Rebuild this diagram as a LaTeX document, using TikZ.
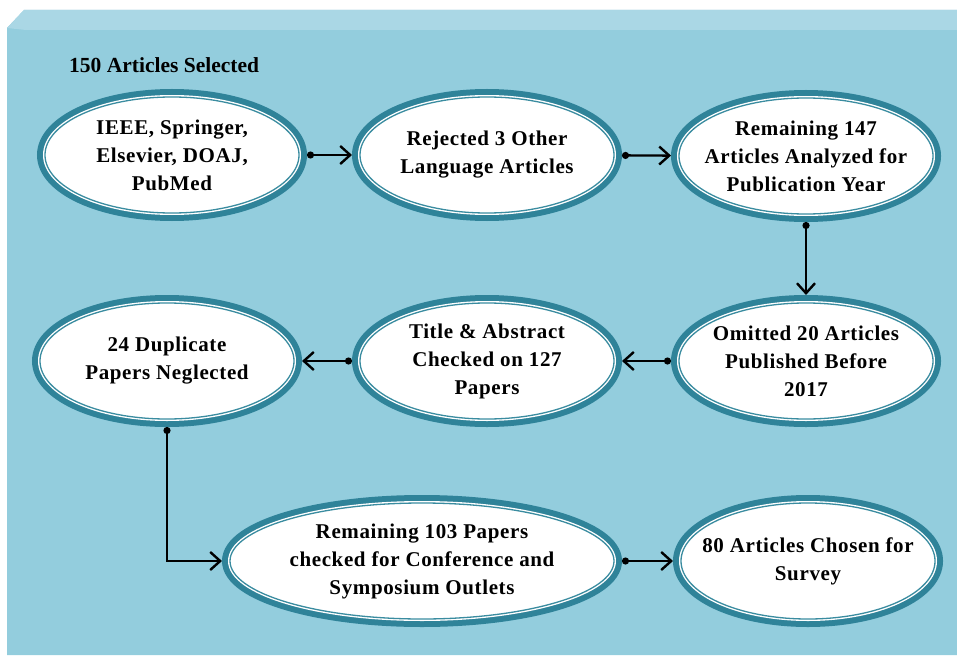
\documentclass[tikz,border=0pt]{standalone}
\usepackage{fontspec}
\setmainfont{Liberation Serif}
\newfontfamily\boxfont[LetterSpace=3]{Liberation Serif}
\usetikzlibrary{arrows.meta,shapes.geometric}
\definecolor{bgmain}{HTML}{93CDDD}
\definecolor{bgtop}{HTML}{AAD7E5}
\definecolor{ring}{HTML}{2F8399}
\definecolor{ringthin}{HTML}{3A8CA0}
\begin{document}
\begin{tikzpicture}[x=1pt,y=-1pt,
  stage/.style={ellipse, minimum width=254pt, minimum height=116pt,
    inner xsep=-70pt, inner ysep=-30pt,
    outer sep=8pt, fill=white, draw=ringthin, line width=1.3pt,
    preaction={draw=ring, line width=16pt},
    preaction={draw=white, line width=4pt},
    font=\boxfont\bfseries\fontsize{21}{28}\selectfont, align=center, text=black},
  conn/.style={line width=2.4pt, black, {Circle[length=7pt]}-{Straight Barb[length=10pt,width=18pt]}}]
\useasboundingbox (0,0) rectangle (957,655);
\fill[white] (0,0) rectangle (957,655);
% panel
\fill[bgmain] (7,655) -- (7,28) -- (24,10) -- (957,10) -- (957,655) -- cycle;
\fill[bgtop] (7,28) -- (24,10) -- (957,10) -- (957,30) -- (26,30) -- cycle;
% title
\node[anchor=west, font=\bfseries\fontsize{21.5}{26}\selectfont, inner sep=0pt] (title) at (69,65) {150 Articles Selected};
% stages
\node[stage] (a) at (172,155) {IEEE, Springer,\\Elsevier, DOAJ,\\PubMed};
\node[stage] (b) at (487,155) {Rejected 3 Other\\Language Articles};
\node[stage] (c) at (806,156) {Remaining 147\\Articles Analyzed for\\Publication Year};
\node[stage] (d) at (806,361) {Omitted 20 Articles\\Published Before\\2017};
\node[stage] (e) at (487,361) {Title \& Abstract\\Checked on 127\\Papers};
\node[stage] (f) at (167,361) {24 Duplicate\\Papers Neglected};
\node[stage, minimum width=384pt] (g) at (422,561) {Remaining 103 Papers\\checked for Conference and\\Symposium Outlets};
\node[stage] (h) at (808,561) {80 Articles Chosen for\\Survey};
% connectors
\draw[conn] (a) -- (b);
\draw[conn] (b) -- (c);
\draw[conn] (c) -- (d);
\draw[conn] (d) -- (e);
\draw[conn] (e) -- (f);
\draw[conn] (f.south) -- (f.south |- g.west) -- (g.west);
\draw[conn] (g) -- (h);
\end{tikzpicture}
\end{document}
